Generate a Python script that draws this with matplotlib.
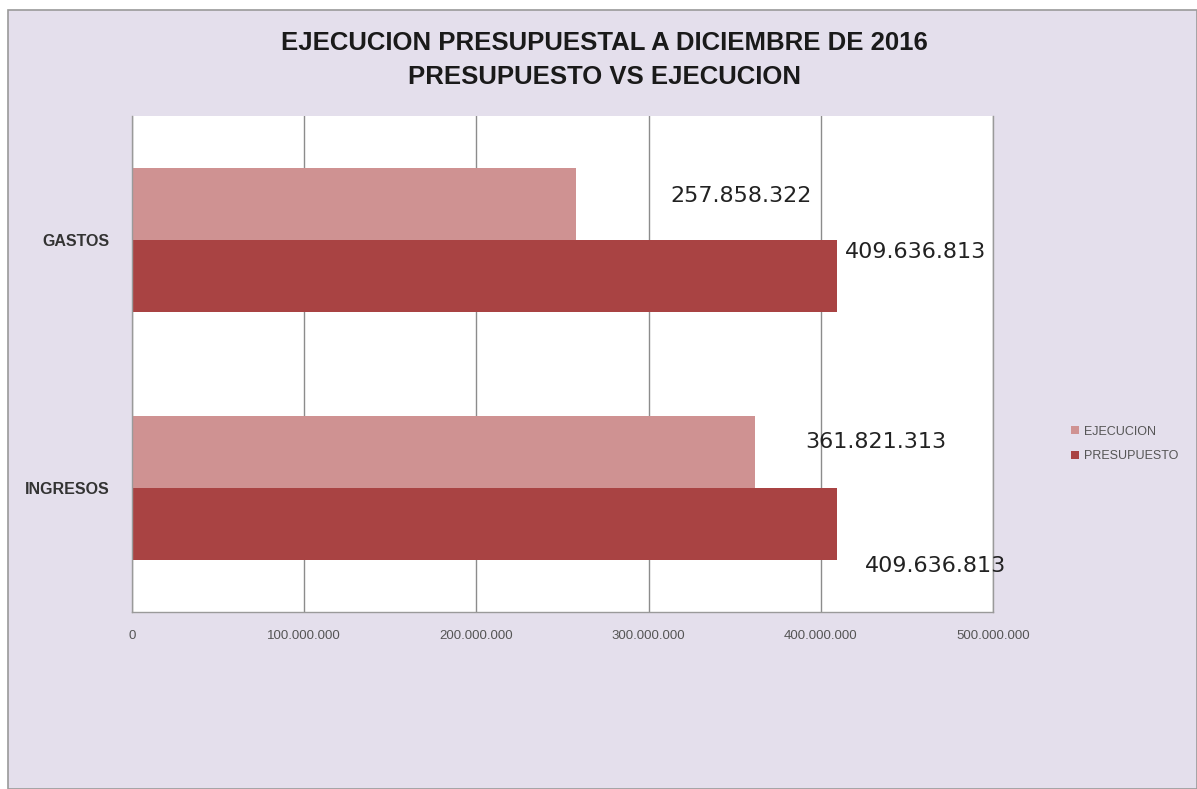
import numpy as np
import matplotlib.pyplot as plt
from matplotlib.patches import Rectangle
from matplotlib.ticker import FuncFormatter

categorias = ['INGRESOS', 'GASTOS']
ejecucion = [361821313, 257858322]
presupuesto = [409636813, 409636813]
etiquetas_ejec = ['361.821.313', '257.858.322']
etiquetas_pres = ['409.636.813', '409.636.813']

col_ejec = '#CF9292'
col_pres = '#A94343'
fondo = '#E4DFEC'
fuente = ['Liberation Sans Narrow', 'Liberation Sans', 'DejaVu Sans']

fig = plt.figure(figsize=(11.97, 7.89), dpi=100, facecolor='white')
# fondo lavanda del grafico
fig.patches.append(Rectangle((8/1197, 0), 1 - 8/1197, 1 - 10/789,
                             transform=fig.transFigure, facecolor=fondo,
                             edgecolor='#9A9A9A', linewidth=1.2, zorder=-10))

ax = fig.add_axes([132/1197, 1 - 612/789, 861/1197, 496/789])
ax.set_facecolor('white')

y = np.arange(len(categorias))
h = 0.29
b1 = ax.barh(y + h/2, ejecucion, height=h, color=col_ejec, label='EJECUCION', zorder=2)
b2 = ax.barh(y - h/2, presupuesto, height=h, color=col_pres, label='PRESUPUESTO', zorder=2)

ax.set_xlim(0, 500000000)
ax.set_ylim(-0.5, 1.5)
ax.set_xticks(np.arange(0, 500000001, 100000000))
ax.xaxis.set_major_formatter(FuncFormatter(lambda v, p: '{:,.0f}'.format(v).replace(',', '.')))
ax.set_yticks(y)
ax.set_yticklabels(categorias, fontsize=11.5, fontweight='bold', color='#333333', family=fuente)
for lab in ax.get_xticklabels():
    lab.set_fontsize(9.5)
    lab.set_color('#555555')
    lab.set_family(fuente)
ax.tick_params(axis='x', length=0, pad=13)
ax.tick_params(axis='y', length=0, pad=16)
ax.grid(axis='x', color='#8C8C8C', linewidth=1.0, zorder=1)
ax.spines['top'].set_visible(False)
for s in ['left', 'bottom', 'right']:
    ax.spines[s].set_color('#9A9A9A')
    ax.spines[s].set_linewidth(1.0)

# etiquetas de valores (desplazamientos en pixeles)
off_ejec = [(50, 10), (94, 8)]
off_pres = [(28, -42), (8, 24)]
for i in range(len(categorias)):
    ax.annotate(etiquetas_ejec[i], (ejecucion[i], y[i] + h/2), xytext=off_ejec[i],
                textcoords='offset pixels', ha='left', va='center',
                fontsize=16, color='#222222', zorder=3)
    ax.annotate(etiquetas_pres[i], (presupuesto[i], y[i] - h/2), xytext=off_pres[i],
                textcoords='offset pixels', ha='left', va='center',
                fontsize=16, color='#222222', zorder=3)

fig.text(604/1197, 1 - 43/789, 'EJECUCION PRESUPUESTAL A DICIEMBRE DE 2016',
         ha='center', va='center', fontsize=18.5, fontweight='bold', color='#1a1a1a',
         family=fuente)
fig.text(604/1197, 1 - 77/789, 'PRESUPUESTO VS EJECUCION',
         ha='center', va='center', fontsize=18.5, fontweight='bold', color='#1a1a1a',
         family=fuente)

leg = fig.legend(handles=[b1, b2], loc='center left', bbox_to_anchor=(1060/1197, 1 - 444/789),
                 frameon=False, handlelength=0.6, handleheight=0.6,
                 handletextpad=0.4, labelspacing=1.0,
                 prop={'family': fuente, 'size': 9})
for t in leg.get_texts():
    t.set_color('#555555')

plt.savefig('out.png', dpi=100, facecolor=fig.get_facecolor())
